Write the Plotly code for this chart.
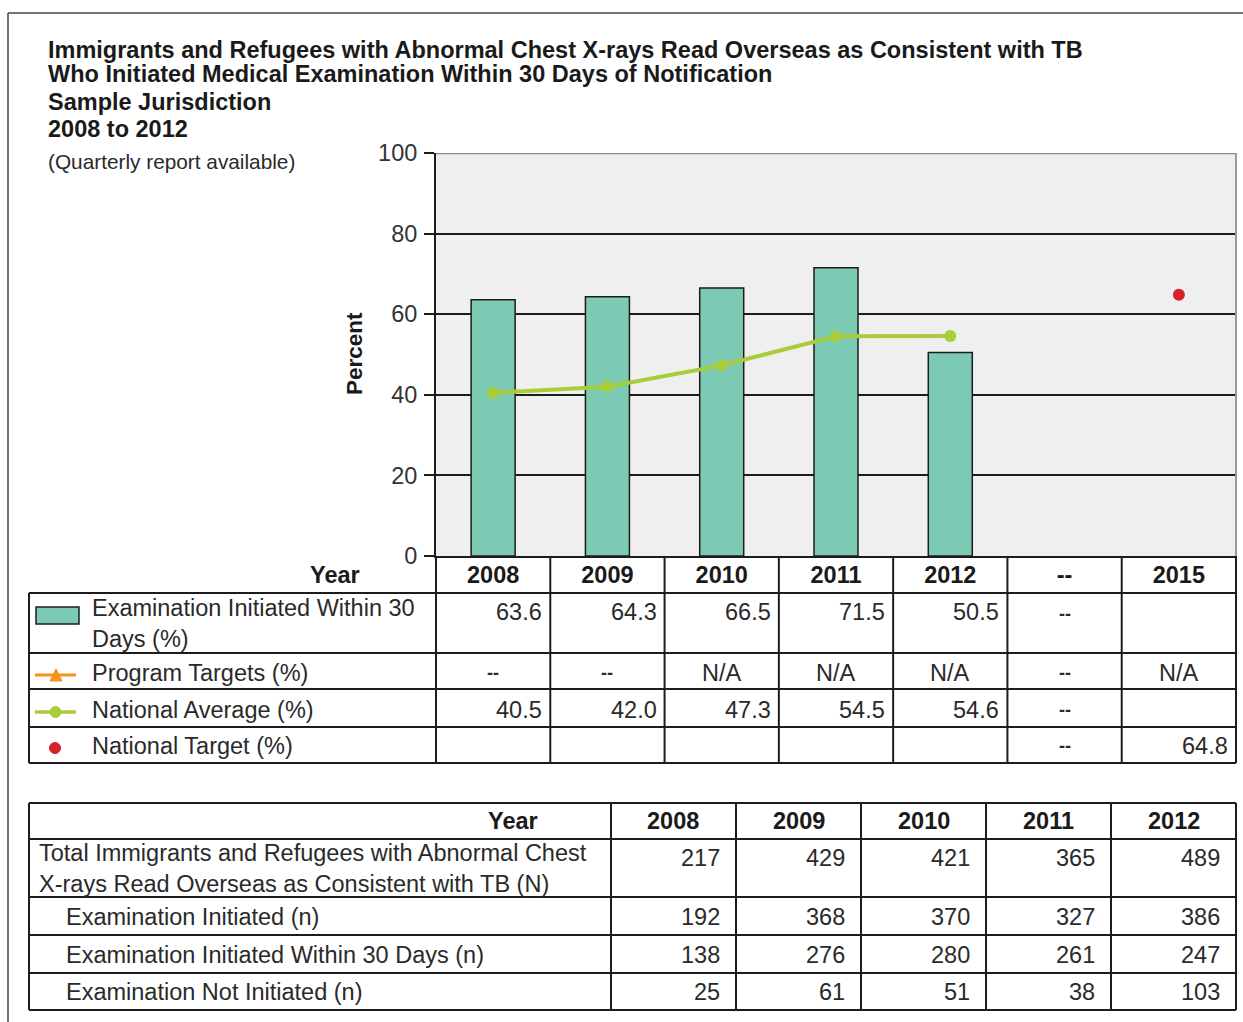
import plotly.graph_objects as go

# ---------------- data ----------------
columns = ["2008", "2009", "2010", "2011", "2012", "--", "2015"]
years = ["2008", "2009", "2010", "2011", "2012"]
exam_within_30_pct = [63.6, 64.3, 66.5, 71.5, 50.5]
national_average_pct = [40.5, 42.0, 47.3, 54.5, 54.6]
program_targets = ["--", "--", "N/A", "N/A", "N/A", "--", "N/A"]
national_target_years = ["2015"]
national_target_pct = [64.8]
y_ticks = [0, 20, 40, 60, 80, 100]

total_abnormal = [217, 429, 421, 365, 489]
exam_initiated = [192, 368, 370, 327, 386]
exam_within_30_n = [138, 276, 280, 261, 247]
exam_not_initiated = [25, 61, 51, 38, 103]

title_lines = [
    "Immigrants and Refugees with Abnormal Chest X-rays Read Overseas as Consistent with TB",
    "Who Initiated Medical Examination Within 30 Days of Notification",
]
subtitle_lines = ["Sample Jurisdiction", "2008 to 2012"]
note_text = "(Quarterly report available)"

upper_labels = ["Examination Initiated Within 30<br>Days (%)", "Program Targets (%)",
                "National Average (%)", "National Target (%)"]
lower_labels = ["Total Immigrants and Refugees with Abnormal Chest<br>X-rays Read Overseas as Consistent with TB (N)",
                "Examination Initiated (n)", "Examination Initiated Within 30 Days (n)",
                "Examination Not Initiated (n)"]

# ---------------- layout helpers ----------------
W, H = 1243, 1022
FONT = "Liberation Sans, Arial, Helvetica, sans-serif"
FS = 23.5
TXT = "#2a2a2a"
DARK = "#1a1a1a"
LINE = "#1c1c1c"
BAR = "#7DCAB4"
GREEN = "#A9CC3B"
RED = "#D4232A"
ORANGE = "#F6921E"

PX0, PX1 = 436, 1236      # plot area x (pixels)
PY_TOP, PY_BOT = 153, 556  # plot area y (pixels)


def fx(x):
    return x / W


def fy(y):
    return 1 - y / H


shapes = []
annotations = []


def hline(x0, x1, y, color=LINE, width=2):
    shapes.append(dict(type="line", xref="paper", yref="paper", x0=fx(x0), x1=fx(x1),
                       y0=fy(y), y1=fy(y), line=dict(color=color, width=width)))


def vline(x, y0, y1, color=LINE, width=2):
    shapes.append(dict(type="line", xref="paper", yref="paper", x0=fx(x), x1=fx(x),
                       y0=fy(y0), y1=fy(y1), line=dict(color=color, width=width)))


def text(x, y, s, size=FS, bold=False, anchor="left", color=TXT):
    annotations.append(dict(xref="paper", yref="paper", x=fx(x), y=fy(y), text=s,
                            showarrow=False, xanchor=anchor, yanchor="middle", align="left",
                            font=dict(family=FONT, size=size, color=color,
                                      weight="bold" if bold else "normal")))


# ---------------- outer frame ----------------
vline(8, 13, H, color="#444", width=1.5)
hline(8, W, 13, color="#444", width=1.5)

# ---------------- titles ----------------
text(46, 50, title_lines[0], bold=True, color=DARK)
text(46, 74, title_lines[1], bold=True, color=DARK)
text(46, 102, subtitle_lines[0], bold=True, color=DARK)
text(46, 129, subtitle_lines[1], bold=True, color=DARK)
text(46, 162, note_text, size=20.8)
annotations.append(dict(xref="paper", yref="paper", x=fx(355), y=fy(354), text="Percent",
                        showarrow=False, textangle=-90, xanchor="center", yanchor="middle",
                        font=dict(family=FONT, size=22.5, color=DARK, weight="bold")))

# ---------------- plot borders ----------------
shapes.append(dict(type="line", xref="paper", yref="y", x0=fx(PX0), x1=fx(PX1), y0=100, y1=100,
                   line=dict(color="#8a8a8a", width=2.5)))
vline(PX1, PY_TOP, PY_BOT, color="#9a9a9a", width=2)

# ---------------- upper table ----------------
ncol = len(columns)
cw = (PX1 - PX0) / ncol
col_edges = [PX0 + k * cw for k in range(ncol + 1)]
up_rows = [593, 653, 689, 727, 763]
TL = 29
for y in up_rows:
    hline(TL, PX1, y)
vline(TL, up_rows[0], up_rows[-1])
for x in col_edges:
    vline(x, PY_BOT, up_rows[-1])

text(362, 575, "Year", bold=True, anchor="right", color=DARK)

row_center_y = [(up_rows[i] + up_rows[i + 1]) / 2 for i in range(4)]
value_y = [612, 673, 710, 746]
for i, lab in enumerate(upper_labels):
    text(90, row_center_y[i] if "<br>" in lab else value_y[i], lab)

# legend icons
shapes.append(dict(type="rect", xref="paper", yref="paper", x0=fx(36), x1=fx(79),
                   y0=fy(607), y1=fy(624), fillcolor=BAR, line=dict(color=LINE, width=1.5)))
hline(35, 76, 675, color=ORANGE, width=3)
shapes.append(dict(type="path", xref="paper", yref="paper",
                   path=f"M {fx(50)},{fy(681)} L {fx(62)},{fy(681)} L {fx(56)},{fy(669)} Z",
                   fillcolor=ORANGE, line=dict(color=ORANGE, width=1)))
hline(35, 76, 712, color=GREEN, width=3.5)
shapes.append(dict(type="circle", xref="paper", yref="paper", x0=fx(50), x1=fx(61),
                   y0=fy(706.5), y1=fy(717.5), fillcolor=GREEN, line=dict(color=GREEN, width=1)))
shapes.append(dict(type="circle", xref="paper", yref="paper", x0=fx(49.5), x1=fx(60.5),
                   y0=fy(742.5), y1=fy(753.5), fillcolor=RED, line=dict(color=RED, width=1)))

blank_idx = columns.index("--")
for k in range(ncol):
    right = col_edges[k + 1] - 6
    center = (col_edges[k] + col_edges[k + 1]) / 2
    if k < len(years):
        text(right, value_y[0], f"{exam_within_30_pct[k]:.1f}", anchor="right")
        text(right, value_y[2], f"{national_average_pct[k]:.1f}", anchor="right")
    if k == blank_idx:
        for r in (0, 2, 3):
            text(center, value_y[r] + (2 if r == 0 else 0), "--", bold=True, size=18, anchor="center")
    pt = program_targets[k]
    text(center, value_y[1], pt, anchor="center", bold=(pt == "--"), size=FS if pt != "--" else 18)
    if columns[k] in national_target_years:
        v = national_target_pct[national_target_years.index(columns[k])]
        text(right, value_y[3], f"{v:.1f}", anchor="right")

# ---------------- lower table ----------------
LX_LAB = 611
lw = (PX1 - LX_LAB) / len(years)
low_edges = [LX_LAB + k * lw for k in range(len(years) + 1)]
low_rows = [803, 839, 897, 935, 973, 1010]
for y in low_rows:
    hline(TL, PX1, y)
vline(TL, low_rows[0], low_rows[-1])
for x in low_edges:
    vline(x, low_rows[0], low_rows[-1])

text(540, 821, "Year", bold=True, anchor="right", color=DARK)
low_value_y = [858, 917, 955, 992]
low_indent = [37, 64, 64, 64]
for i, lab in enumerate(lower_labels):
    ly = (low_rows[1] + low_rows[2]) / 2 if "<br>" in lab else low_value_y[i]
    text(low_indent[i], ly, lab)
low_values = [total_abnormal, exam_initiated, exam_within_30_n, exam_not_initiated]
for k, yr in enumerate(years):
    center = (low_edges[k] + low_edges[k + 1]) / 2
    text(center, 821, yr, bold=True, anchor="center", color=DARK)
    for i, vals in enumerate(low_values):
        text(low_edges[k + 1] - 14, low_value_y[i], str(vals[k]), anchor="right")

# ---------------- traces ----------------
fig = go.Figure()
fig.add_trace(go.Bar(x=years, y=exam_within_30_pct, width=0.385,
                     marker=dict(color=BAR, line=dict(color=LINE, width=1.5)),
                     name="Examination Initiated Within 30 Days (%)"))
fig.add_trace(go.Scatter(x=years, y=national_average_pct, mode="lines+markers",
                         line=dict(color=GREEN, width=4),
                         marker=dict(color=GREEN, size=12), name="National Average (%)"))
fig.add_trace(go.Scatter(x=national_target_years, y=national_target_pct, mode="markers",
                         marker=dict(color=RED, size=12), name="National Target (%)"))

fig.update_layout(
    template="none",
    width=W, height=H, margin=dict(l=0, r=0, t=0, b=0, pad=0, autoexpand=False),
    paper_bgcolor="white", plot_bgcolor="#efefef", showlegend=False,
    font=dict(family=FONT, color=TXT),
    shapes=shapes, annotations=annotations,
    xaxis=dict(domain=[fx(PX0), fx(PX1)], type="category", categoryorder="array",
               categoryarray=columns, range=[-0.5, ncol - 0.5], showgrid=False,
               showline=True, linecolor=LINE, linewidth=2, ticks="", automargin=False,
               tickfont=dict(family=FONT, size=FS, color=DARK, weight="bold"),
               ticklabelstandoff=-3, fixedrange=True),
    yaxis=dict(domain=[fy(PY_BOT), fy(PY_TOP)], range=[0, 100], tickvals=y_ticks,
               ticks="outside", ticklen=10, tickwidth=2, tickcolor=LINE,
               showline=True, linecolor=LINE, linewidth=2, automargin=False,
               showgrid=True, gridcolor=LINE, gridwidth=2, zeroline=False,
               tickfont=dict(family=FONT, size=FS, color="#333"),
               ticklabelstandoff=2, fixedrange=True),
)

fig.write_html("out.html", config={"displayModeBar": False},
               post_script="document.body.style.margin='0px';document.body.style.overflow='hidden';")
